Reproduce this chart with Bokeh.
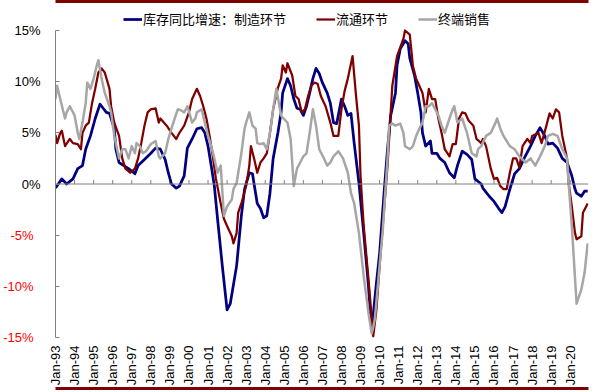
import math
from bokeh.plotting import figure
from bokeh.models import Range1d, FixedTicker, Span, Legend, LegendItem, LinearAxis
from bokeh.embed import file_html
from bokeh.resources import INLINE

# ---------------- data ----------------
mfg_dates = ["1993-01","1993-05","1993-08","1993-12","1994-03","1994-06","1994-08","1994-11","1995-02","1995-05",
             "1995-07","1995-09","1995-11","1996-02","1996-03","1996-05","1996-08","1996-11","1997-03","1997-05",
             "1997-09","1998-01","1998-04","1998-07","1998-10","1998-12","1999-02","1999-05","1999-07","1999-10",
             "1999-12","2000-03","2000-06","2000-09","2000-11","2001-01","2001-03","2001-05","2001-07","2001-10",
             "2002-01","2002-03","2002-07","2002-10","2002-12","2003-03","2003-05","2003-06","2003-08","2003-10",
             "2003-12","2004-02","2004-04","2004-06","2004-09","2004-11","2004-12","2005-03","2005-05","2005-07",
             "2005-09","2005-11","2006-01","2006-03","2006-05","2006-07","2006-09","2006-11","2007-01","2007-04",
             "2007-06","2007-08","2007-10","2008-01","2008-03","2008-05","2008-07","2008-09","2008-12","2009-03",
             "2009-06","2009-08","2009-11","2010-01","2010-04","2010-06","2010-08","2010-11","2010-12","2011-02",
             "2011-05","2011-07","2011-08","2011-11","2012-01","2012-03","2012-04","2012-06","2012-09","2012-10",
             "2013-01","2013-03","2013-06","2013-09","2013-12","2014-02","2014-05","2014-08","2014-11","2015-01",
             "2015-05","2015-06","2015-10","2016-01","2016-04","2016-06","2016-08","2016-11","2017-02","2017-05",
             "2017-08","2017-12","2018-03","2018-06","2018-09","2018-11","2019-02","2019-05","2019-08","2019-11",
             "2020-02","2020-04","2020-05","2020-08","2020-10","2020-12"]
mfg_values = [-0.4,0.5,0.0,0.5,1.5,1.8,3.4,4.7,6.4,7.8,
              7.4,7.0,6.9,5.4,3.4,2.1,1.8,1.5,1.0,1.8,
              2.4,3.0,3.5,3.4,2.4,1.1,0.0,-0.4,-0.2,0.8,
              3.5,4.4,5.4,5.5,5.0,3.7,1.8,-0.2,-3.4,-8.0,
              -12.3,-11.7,-8.0,-3.1,-0.5,1.1,1.0,0.0,-1.9,-2.4,
              -3.3,-3.1,-0.9,2.5,5.0,7.0,8.9,10.3,9.6,8.3,
              7.4,7.3,6.7,7.6,8.9,10.3,11.3,10.8,9.9,8.9,
              7.9,6.0,5.9,8.3,7.6,6.7,6.9,4.0,0.1,-4.8,
              -10.0,-14.3,-9.7,-6.8,-0.5,3.4,6.7,8.9,11.6,13.2,
              14.0,13.7,12.3,10.6,8.9,7.0,5.0,3.7,4.2,3.0,
              3.0,2.5,2.1,1.1,0.6,1.8,3.2,2.9,2.4,0.5,
              0.0,-0.4,-1.2,-1.7,-2.4,-2.8,-2.2,-0.5,1.0,1.5,
              2.5,3.7,4.7,5.5,4.7,3.9,4.0,3.5,2.5,2.1,
              0.8,-0.5,-0.9,-1.2,-0.7,-0.7]

dist_dates = ["1993-01","1993-02","1993-04","1993-05","1993-07","1993-10","1993-12","1994-03","1994-05","1994-06",
              "1994-08","1994-10","1994-12","1995-02","1995-04","1995-06","1995-08","1995-11","1995-12","1996-02",
              "1996-05","1996-07","1996-09","1996-12","1997-03","1997-05","1997-07","1997-09","1997-11","1998-01",
              "1998-04","1998-06","1998-07","1998-11","1999-02","1999-05","1999-07","1999-10","2000-01","2000-03",
              "2000-06","2000-08","2000-10","2000-12","2001-02","2001-04","2001-06","2001-09","2001-11","2002-01",
              "2002-04","2002-05","2002-07","2002-08","2002-10","2003-01","2003-03","2003-04","2003-06","2003-08",
              "2003-10","2003-12","2004-02","2004-04","2004-06","2004-09","2004-11","2004-12","2005-02","2005-03",
              "2005-06","2005-08","2005-10","2005-12","2006-02","2006-04","2006-06","2006-08","2006-10","2006-12",
              "2007-03","2007-06","2007-08","2007-11","2008-01","2008-03","2008-05","2008-08","2008-10","2008-12",
              "2009-01","2009-03","2009-06","2009-09","2009-11","2010-01","2010-03","2010-06","2010-09","2010-12",
              "2011-04","2011-05","2011-08","2011-10","2011-12","2012-02","2012-04","2012-06","2012-08","2012-10",
              "2012-12","2013-02","2013-04","2013-06","2013-09","2013-11","2014-01","2014-03","2014-05","2014-07",
              "2014-09","2014-12","2015-02","2015-05","2015-06","2015-08","2015-11","2016-01","2016-03","2016-05",
              "2016-07","2016-09","2016-11","2017-01","2017-03","2017-05","2017-07","2017-10","2017-12","2018-01",
              "2018-05","2018-07","2018-10","2018-12","2019-02","2019-04","2019-06","2019-08","2019-11","2019-12",
              "2020-02","2020-04","2020-05","2020-08","2020-09","2020-12"]
dist_values = [4.8,4.0,5.0,5.2,3.7,4.4,4.0,3.9,3.4,5.0,
               5.7,6.0,7.9,9.3,10.9,11.3,10.9,9.3,7.6,6.0,
               4.7,2.5,1.5,1.1,1.5,2.5,4.0,5.7,7.0,7.3,
               7.4,6.0,6.4,5.7,5.0,4.4,5.0,5.7,7.0,8.3,
               9.3,8.6,7.6,6.4,4.7,2.7,0.5,-1.9,-3.4,-4.1,
               -5.1,-5.8,-4.8,-2.8,-1.9,-0.2,1.8,3.7,2.5,1.1,
               2.1,2.5,3.0,5.0,7.3,9.4,10.3,11.6,10.9,11.8,
               10.6,8.6,8.3,7.0,7.3,8.6,9.6,9.9,9.8,8.6,
               7.6,6.0,4.7,4.7,7.3,9.1,10.3,12.5,8.9,5.7,
               0.8,-4.1,-9.3,-14.9,-12.3,-8.0,-4.1,1.8,9.6,12.5,
               14.2,15.0,14.6,11.5,10.3,9.6,8.9,7.0,9.3,8.3,
               8.3,6.4,5.0,3.4,2.7,3.9,3.9,6.4,7.0,6.9,
               6.2,5.7,4.4,4.0,4.4,3.7,1.5,0.5,0.6,-0.2,
               -0.5,-0.5,1.1,2.5,2.5,1.6,3.7,4.4,4.0,4.7,
               5.0,4.0,5.7,6.9,6.4,7.3,7.0,4.7,2.5,0.1,
               -2.2,-4.8,-5.4,-5.1,-2.8,-1.9]

retail_dates = ["1993-01","1993-02","1993-04","1993-07","1993-08","1993-10","1994-01","1994-03","1994-04","1994-06",
                "1994-08","1994-09","1994-11","1995-01","1995-03","1995-04","1995-06","1995-08","1995-11","1995-12",
                "1996-02","1996-05","1996-07","1996-09","1996-11","1997-01","1997-03","1997-04","1997-06","1997-08",
                "1997-10","1998-01","1998-04","1998-06","1998-07","1998-10","1998-12","1999-02","1999-04","1999-06",
                "1999-08","1999-10","1999-12","2000-03","2000-05","2000-06","2000-09","2000-11","2001-01","2001-03",
                "2001-05","2001-07","2001-09","2001-11","2002-01","2002-04","2002-05","2002-07","2002-10","2002-12",
                "2003-01","2003-03","2003-05","2003-07","2003-08","2003-10","2003-12","2004-02","2004-04","2004-06",
                "2004-08","2004-11","2004-12","2005-03","2005-05","2005-07","2005-09","2005-11","2006-01","2006-03",
                "2006-05","2006-07","2006-09","2006-11","2007-02","2007-04","2007-06","2007-08","2007-11","2008-02",
                "2008-05","2008-07","2008-09","2008-12","2009-03","2009-06","2009-08","2009-09","2009-10","2010-01",
                "2010-03","2010-06","2010-07","2010-09","2010-11","2011-02","2011-04","2011-05","2011-08","2011-10",
                "2011-12","2012-02","2012-04","2012-06","2012-08","2012-10","2012-12","2013-02","2013-04","2013-06",
                "2013-09","2013-11","2013-12","2014-02","2014-05","2014-08","2014-11","2015-02","2015-03","2015-05",
                "2015-08","2015-11","2016-02","2016-03","2016-05","2016-07","2016-09","2016-11","2017-02","2017-05",
                "2017-09","2017-12","2018-03","2018-06","2018-09","2018-11","2019-02","2019-05","2019-08","2019-11",
                "2019-12","2020-02","2020-05","2020-08","2020-10","2020-12"]
retail_values = [8.3,9.6,8.3,6.4,7.0,7.6,6.7,5.0,4.4,6.0,
                 7.9,9.9,9.3,10.3,11.6,12.1,10.3,8.9,7.6,7.0,
                 4.7,2.5,3.4,3.4,2.5,3.7,3.0,4.0,3.7,3.0,
                 3.2,3.9,4.2,2.7,2.5,3.0,4.4,5.4,6.4,7.3,
                 7.2,7.0,7.6,6.0,6.4,7.0,7.3,6.0,4.7,3.7,
                 2.5,1.1,1.8,-3.1,-2.2,-1.5,-0.5,0.1,3.0,5.4,
                 6.0,7.0,5.7,5.4,4.0,3.9,4.0,3.4,5.0,7.3,
                 9.3,6.7,6.5,6.0,4.4,-0.2,1.5,2.1,2.7,3.0,
                 5.0,7.3,5.7,3.4,2.5,1.8,2.1,2.7,3.2,2.5,
                 1.1,-0.9,-1.9,-4.8,-9.0,-12.6,-14.6,-14.0,-13.2,-8.0,
                 -4.5,2.5,5.7,5.9,5.7,5.9,5.0,3.7,3.4,3.7,
                 4.7,5.4,6.0,7.6,7.6,7.9,7.3,6.7,5.7,5.0,
                 6.4,7.3,7.6,6.0,6.4,5.0,3.0,2.7,3.4,3.7,
                 4.7,5.0,6.0,6.4,5.4,4.7,4.2,3.7,3.4,2.7,
                 2.1,2.5,1.8,2.7,3.7,4.7,4.9,4.7,3.4,2.5,
                 0.1,-4.1,-11.7,-10.3,-8.7,-5.8]

series_names = ["库存同比增速：制造环节", "流通环节", "终端销售"]
series_colors = ["#000080", "#800000", "#A6A6A6"]
series_widths = [2.75, 2.25, 2.5]

tick_years = list(range(1993, 2021))
x_tick_labels = ["Jan-%02d" % (y % 100) for y in tick_years]
y_tick_values = [-15, -10, -5, 0, 5, 10, 15]
y_tick_labels = ["-15%", "-10%", "-5%", "0%", "5%", "10%", "15%"]

RULE_COLOR = "#7F0000"
X_END = 335.5


def month_index(s):
    y, m = s.split("-")
    return (int(y) - 1993) * 12 + int(m) - 1


x_ticks = [(y - 1993) * 12 for y in tick_years]

# ---------------- figure ----------------
# frame: x 48..588 px, y 1..337 px; the 15 % line sits 29 px below the frame top,
# the strip above it holds the legend row
FRAME_H = 336
FRAME_W = 540
p = figure(width=600, height=392, output_backend="svg", toolbar_location=None,
           x_range=Range1d(0, X_END), y_range=Range1d(-15, -15 + 30 * FRAME_H / 307.0),
           min_border_left=48, min_border_right=12, min_border_top=1, min_border_bottom=55)
p.outline_line_color = None
p.grid.visible = False
p.background_fill_color = "white"
p.border_fill_color = "white"

# month units per pixel, used to stretch the page rules over the full width
mpp = X_END / FRAME_W
rule_bounds = (-48 * mpp, X_END + 12 * mpp)

# x axis: rotated labels only
xa = p.xaxis[0]
xa.ticker = FixedTicker(ticks=x_ticks)
xa.major_label_overrides = {t: lab for t, lab in zip(x_ticks, x_tick_labels)}
xa.axis_line_color = None
xa.major_tick_line_color = None
xa.major_tick_out = 0
xa.minor_tick_line_color = None
xa.major_label_orientation = math.pi / 2
xa.major_label_standoff = 8
xa.major_label_text_font = "Liberation Sans"
xa.major_label_text_font_size = "13px"
xa.major_label_text_color = "#000000"

# dark red rules at the top and the bottom of the page (plain axis lines, no ticks)
for side, width in (("above", 3), ("below", 3)):
    rule_axis = LinearAxis(ticker=FixedTicker(ticks=[]), bounds=rule_bounds,
                           axis_line_color=RULE_COLOR, axis_line_width=width,
                           major_tick_line_color=None, minor_tick_line_color=None,
                           major_tick_out=0, major_tick_in=0, minor_tick_out=0, minor_tick_in=0,
                           major_label_standoff=0, major_label_text_font_size="1px")
    p.add_layout(rule_axis, side)

# inner y axis: gray line + inside ticks, black labels for 0% and up
ya = p.yaxis[0]
ya.ticker = FixedTicker(ticks=y_tick_values)
ya.bounds = (-15, 15)
ya.major_label_overrides = {v: (lab if v >= 0 else "") for v, lab in zip(y_tick_values, y_tick_labels)}
ya.axis_line_color = "#808080"
ya.major_tick_line_color = "#808080"
ya.major_tick_in = 4
ya.major_tick_out = 0
ya.minor_tick_line_color = None
ya.major_label_standoff = 15
ya.major_label_text_font = "Liberation Sans"
ya.major_label_text_font_size = "13px"
ya.major_label_text_color = "#000000"

# outer y axis: red labels for the negative values, shifted back under the inner one
neg_vals = [v for v in y_tick_values if v < 0]
red_axis = LinearAxis(ticker=FixedTicker(ticks=neg_vals),
                      major_label_overrides={v: lab for v, lab in zip(y_tick_values, y_tick_labels) if v < 0},
                      axis_line_color=None, major_tick_line_color=None, minor_tick_line_color=None,
                      major_label_standoff=-28,
                      major_label_text_font="Liberation Sans", major_label_text_font_size="13px",
                      major_label_text_color="#FF0000")
p.add_layout(red_axis, "left")

# zero line with yearly ticks
p.add_layout(Span(location=0, dimension="width", line_color="#808080", line_width=1))
p.ray(x=x_ticks[1:], y=[0] * (len(x_ticks) - 1), length=4, length_units="screen",
      angle=math.pi / 2, line_color="#808080", line_width=1)

# series
renderers = []
for dates, vals, col, w in [(mfg_dates, mfg_values, series_colors[0], series_widths[0]),
                            (dist_dates, dist_values, series_colors[1], series_widths[1]),
                            (retail_dates, retail_values, series_colors[2], series_widths[2])]:
    xs = [month_index(d) for d in dates]
    r = p.line(xs, vals, line_color=col, line_width=w, line_join="round")
    renderers.append(r)

legend = Legend(items=[LegendItem(label=n, renderers=[r]) for n, r in zip(series_names, renderers)],
                orientation="horizontal", location=(68, 309),
                label_text_font="Noto Sans CJK SC", label_text_font_size="13px",
                label_text_color="#000000",
                glyph_width=19, glyph_height=16, label_standoff=1, spacing=30,
                padding=0, margin=0, border_line_color=None, background_fill_alpha=0)
p.add_layout(legend)

open("out.html", "w").write(file_html(p, INLINE))
